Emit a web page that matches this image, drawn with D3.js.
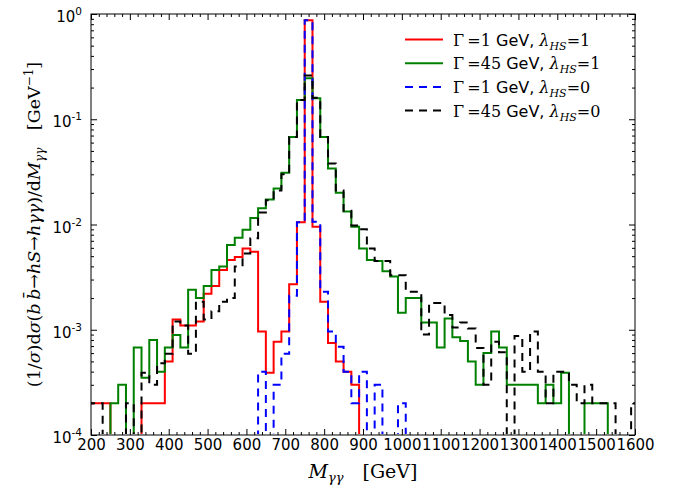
<!DOCTYPE html>
<html>
<head>
<script src="https://d3js.org/d3.v7.min.js"></script>
<style>
  body { margin: 0; background: #fff; }
  svg { display: block; }
</style>
</head>
<body>
<svg width="673" height="487"></svg>
<script>
// bin centres in GeV (bins are 20 GeV wide)
var massBins = [
  200, 220, 240, 260, 280, 300, 320, 340, 360, 380,
  400, 420, 440, 460, 480, 500, 520, 540, 560, 580,
  600, 620, 640, 660, 680, 700, 720, 740, 760, 780,
  800, 820, 840, 860, 880, 900, 920, 940, 960, 980,
  1000, 1020, 1040, 1060, 1080, 1100, 1120, 1140, 1160, 1180,
  1200, 1220, 1240, 1260, 1280, 1300, 1320, 1340, 1360, 1380,
  1400, 1420, 1440, 1460, 1480, 1500, 1520, 1540, 1560, 1580,
  1600];
var binWidth = 20;

// Gamma = 1 GeV, lambda_HS = 1
var red1 = [
  2e-4, 2e-4, 2e-4, 0, 0, 0, 0, 2e-4, 2e-4, 2e-4,
  5e-4, 1.25e-3, 1.1e-3, 1.1e-3, 1.2e-3, 2.2e-3, 2.6e-3, 3.7e-3, 4.6e-3, 4.9e-3,
  5.9e-3, 5.5e-3, 9.6e-4, 3.9e-4, 7.7e-4, 9.6e-4, 2.7e-3, 1.05e-2, 0.87, 9.5e-3,
  1.85e-3, 7.5e-4, 5e-4, 4e-4, 3e-4, 0, 0, 0, 0, 0,
  0, 0, 0, 0, 0, 0, 0, 0, 0, 0,
  0, 0, 0, 0, 0, 0, 0, 0, 0, 0,
  0, 0, 0, 0, 0, 0, 0, 0, 0, 0,
  0];
// Gamma = 45 GeV, lambda_HS = 1
var green45 = [
  0, 0, 0, 2e-4, 3e-4, 0, 6.8e-4, 3.5e-4, 8e-4, 4e-4,
  6.8e-4, 8.9e-4, 6.8e-4, 2.4e-3, 2.0e-3, 2.6e-3, 3.7e-3, 4.0e-3, 6.4e-3, 7.5e-3,
  8.9e-3, 1.15e-2, 1.43e-2, 1.73e-2, 2.2e-2, 3.1e-2, 6.8e-2, 0.152, 0.245, 0.158,
  6.8e-2, 3.4e-2, 2.0e-2, 1.33e-2, 9.5e-3, 5.9e-3, 4.6e-3, 4.5e-3, 3.6e-3, 3.2e-3,
  1.45e-3, 2.0e-3, 2.0e-3, 1.17e-3, 1.17e-3, 6.8e-4, 1.28e-3, 8.5e-4, 7.8e-4, 5e-4,
  3e-4, 6e-4, 9.6e-4, 6.8e-4, 3e-4, 3e-4, 3e-4, 3e-4, 2e-4, 3e-4,
  2e-4, 3.9e-4, 0, 0, 2e-4, 2e-4, 2e-4, 0, 0, 0,
  0];
// Gamma = 1 GeV, lambda_HS = 0
var blue1 = [
  0, 0, 0, 0, 0, 0, 0, 0, 0, 0,
  0, 0, 0, 0, 0, 0, 0, 0, 0, 0,
  0, 0, 4e-4, 0, 3e-4, 5.9e-4, 2.1e-3, 1.05e-2, 0.87, 1.06e-2,
  2.3e-3, 9.6e-4, 6.9e-4, 4e-4, 2e-4, 4e-4, 0, 3e-4, 0, 0,
  2e-4, 0, 0, 0, 0, 0, 0, 0, 0, 0,
  0, 0, 0, 0, 0, 0, 0, 0, 0, 0,
  0, 0, 0, 0, 0, 0, 0, 0, 0, 0,
  0];
// Gamma = 45 GeV, lambda_HS = 0
var black45 = [
  2e-4, 2e-4, 0, 0, 0, 2e-4, 0, 3.9e-4, 3e-4, 4.8e-4,
  5.9e-4, 1.2e-3, 1.1e-3, 5.9e-4, 1.85e-3, 1.25e-3, 1.5e-3, 1.85e-3, 2.0e-3, 4.0e-3,
  5.3e-3, 7.4e-3, 1.3e-2, 1.7e-2, 2.1e-2, 3.0e-2, 6.8e-2, 0.152, 0.26, 0.16,
  6.8e-2, 3.8e-2, 2.1e-2, 1.35e-2, 9.8e-3, 9.0e-3, 5.9e-3, 4.5e-3, 4.5e-3, 3.3e-3,
  3.3e-3, 2.3e-3, 2.3e-3, 9e-4, 1.8e-3, 1.8e-3, 1.38e-3, 1.05e-3, 1.17e-3, 1.03e-3,
  6.7e-4, 3e-4, 7.7e-4, 6.1e-4, 0, 8.7e-4, 4e-4, 9.6e-4, 4e-4, 2e-4,
  4e-4, 4e-4, 3e-4, 2e-4, 3e-4, 2e-4, 2e-4, 2e-4, 0, 0,
  2e-4];

var xTicks = [200, 300, 400, 500, 600, 700, 800, 900, 1000, 1100, 1200, 1300, 1400, 1500, 1600];
var yTicks = [1e-4, 1e-3, 1e-2, 1e-1, 1];
var yTickExp = ["-4", "-3", "-2", "-1", "0"];
var gammaLabels = ["1", "45", "1", "45"];
var lambdaLabels = ["1", "1", "0", "0"];

var svg = d3.select("svg");
var margin = {top: 14, right: 38, bottom: 52, left: 91};
var width = 673 - margin.left - margin.right;
var height = 487 - margin.top - margin.bottom;

var x = d3.scaleLinear().domain([200, 1600]).range([0, width]);
var y = d3.scaleLog().domain([1e-4, 1]).range([height, 0]);

var g = svg.append("g").attr("transform", "translate(" + margin.left + "," + margin.top + ")");

svg.append("defs").append("clipPath").attr("id", "plotclip")
  .append("rect").attr("x", 0).attr("y", -2).attr("width", width).attr("height", height + 1);

var series = [
  {vals: red1, color: "#ff0000", dash: null},
  {vals: green45, color: "#008000", dash: null},
  {vals: blue1, color: "#0000ff", dash: "8,6"},
  {vals: black45, color: "#000000", dash: "8,6"}
];

// step outline for one histogram
function stepPoints(vals) {
  var pts = [];
  vals.forEach(function(v, i) {
    pts.push([massBins[i] - binWidth / 2, v]);
    pts.push([massBins[i] + binWidth / 2, v]);
  });
  return pts;
}

var line = d3.line()
  .x(function(d) { return x(d[0]); })
  .y(function(d) { return d[1] > 0 ? y(d[1]) : height + 0.5; });

var plot = g.append("g").attr("clip-path", "url(#plotclip)");
plot.selectAll("path.hist").data(series).join("path")
  .attr("class", "hist")
  .attr("d", function(d) { return line(stepPoints(d.vals)); })
  .attr("fill", "none")
  .attr("stroke", function(d) { return d.color; })
  .attr("stroke-width", 2)
  .attr("stroke-dasharray", function(d) { return d.dash; })
  .attr("stroke-linejoin", "miter");

// axes: ticks pointing inwards on all four sides
var xMinor = x.ticks(70).filter(function(v) { return xTicks.indexOf(v) < 0; });
var yMinor = y.ticks().filter(function(v) { return yTicks.indexOf(v) < 0; });

function styleAxis(sel) {
  sel.select(".domain").remove();
  sel.selectAll("line").attr("stroke", "#000").attr("stroke-width", 1);
}

g.append("g").attr("transform", "translate(0," + height + ")")
  .call(d3.axisBottom(x).tickValues(xTicks).tickFormat(d3.format("d")).tickSize(-6).tickSizeOuter(0).tickPadding(4))
  .call(styleAxis)
  .selectAll("text").attr("font-family", "DejaVu Sans").attr("font-size", 15).attr("fill", "#000");
g.append("g").attr("transform", "translate(0," + height + ")")
  .call(d3.axisBottom(x).tickValues(xMinor).tickFormat("").tickSize(-3).tickSizeOuter(0))
  .call(styleAxis);
g.append("g")
  .call(d3.axisTop(x).tickValues(xTicks).tickFormat("").tickSize(-6).tickSizeOuter(0))
  .call(styleAxis);
g.append("g")
  .call(d3.axisTop(x).tickValues(xMinor).tickFormat("").tickSize(-3).tickSizeOuter(0))
  .call(styleAxis);

g.append("g")
  .call(d3.axisLeft(y).tickValues(yTicks).tickFormat("").tickSize(-6).tickSizeOuter(0))
  .call(styleAxis);
g.append("g")
  .call(d3.axisLeft(y).tickValues(yMinor).tickFormat("").tickSize(-3).tickSizeOuter(0))
  .call(styleAxis);
g.append("g").attr("transform", "translate(" + width + ",0)")
  .call(d3.axisRight(y).tickValues(yTicks).tickFormat("").tickSize(-6).tickSizeOuter(0))
  .call(styleAxis);
g.append("g").attr("transform", "translate(" + width + ",0)")
  .call(d3.axisRight(y).tickValues(yMinor).tickFormat("").tickSize(-3).tickSizeOuter(0))
  .call(styleAxis);

// y tick labels 10^n
var ylab = g.selectAll("text.ylab").data(yTicks).join("text")
  .attr("class", "ylab")
  .attr("x", -9)
  .attr("y", function(d) { return y(d) + 8; })
  .attr("text-anchor", "end")
  .attr("font-family", "DejaVu Sans")
  .attr("font-size", 15);
ylab.append("tspan").text("10");
ylab.append("tspan").attr("font-size", 10.5).attr("dy", -7).text(function(d, i) { return yTickExp[i]; });

// frame
g.append("rect").attr("width", width).attr("height", height)
  .attr("fill", "none").attr("stroke", "#000").attr("stroke-width", 1);

// legend
var legend = g.selectAll("g.leg").data(series).join("g")
  .attr("class", "leg")
  .attr("transform", function(d, i) { return "translate(" + (405 - margin.left) + "," + (39.5 - margin.top + i * 23.7) + ")"; });
legend.append("line")
  .attr("x1", 0).attr("x2", 38)
  .attr("stroke", function(d) { return d.color; })
  .attr("stroke-width", 2)
  .attr("stroke-dasharray", function(d) { return d.dash; });
var lt = legend.append("text").attr("x", 48).attr("y", 6)
  .attr("font-family", "DejaVu Serif").attr("font-size", 16);
lt.append("tspan").text(function(d, i) { return "\u0393\u2009=" + gammaLabels[i]; });
lt.append("tspan").attr("font-family", "DejaVu Sans").text(" GeV, ");
lt.append("tspan").attr("font-style", "italic").text("\u03bb");
lt.append("tspan").attr("font-style", "italic").attr("font-size", 11).attr("dy", 4).text("HS");
lt.append("tspan").attr("dy", -4).text(function(d, i) { return "=" + lambdaLabels[i]; });

// axis titles
var xt = svg.append("text")
  .attr("x", margin.left + width / 2).attr("y", 478)
  .attr("text-anchor", "middle")
  .attr("font-family", "DejaVu Serif").attr("font-size", 19);
xt.append("tspan").attr("font-style", "italic").text("M");
xt.append("tspan").attr("font-style", "italic").attr("font-size", 13).attr("dy", 4).text("\u03b3\u03b3");
xt.append("tspan").attr("dy", -4).text("\u2003[GeV]");

var yt = svg.append("text")
  .attr("transform", "translate(40," + (margin.top + height / 2) + ") rotate(-90)")
  .attr("text-anchor", "middle")
  .attr("font-family", "DejaVu Serif").attr("font-size", 17.5);
yt.append("tspan").text("(1/");
yt.append("tspan").attr("font-style", "italic").text("\u03c3");
yt.append("tspan").text(")d");
yt.append("tspan").attr("font-style", "italic").text("\u03c3");
yt.append("tspan").text("(");
yt.append("tspan").attr("font-style", "italic").text("b\u2009b\u0304");
yt.append("tspan").text("\u2192");
yt.append("tspan").attr("font-style", "italic").text("hS");
yt.append("tspan").text("\u2192");
yt.append("tspan").attr("font-style", "italic").text("h\u03b3\u03b3");
yt.append("tspan").text(")/d");
yt.append("tspan").attr("font-style", "italic").text("M");
yt.append("tspan").attr("font-style", "italic").attr("font-size", 12).attr("dy", 4).text("\u03b3\u03b3");
yt.append("tspan").attr("dy", -4).text("\u2003[GeV");
yt.append("tspan").attr("font-size", 12).attr("dy", -7).text("\u22121");
yt.append("tspan").attr("dy", 7).text("]");
</script>
</body>
</html>
